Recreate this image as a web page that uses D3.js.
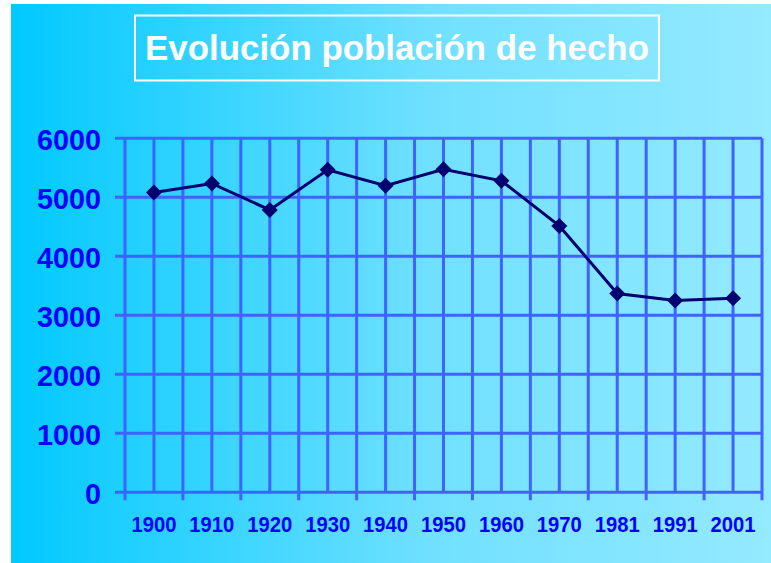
<!DOCTYPE html>
<html>
<head>
<meta charset="utf-8">
<script src="https://cdn.jsdelivr.net/npm/d3@7"></script>
<style>
  html, body { margin: 0; padding: 0; background: #fff; }
  svg { display: block; }
</style>
</head>
<body>
<svg id="chart"></svg>
<script>
const years = ['1900', '1910', '1920', '1930', '1940', '1950', '1960', '1970', '1981', '1991', '2001'];
const poblacion = [5080, 5235, 4785, 5465, 5195, 5475, 5280, 4515, 3370, 3250, 3290];
const yTicks = [0, 1000, 2000, 3000, 4000, 5000, 6000];
const titulo = 'Evolución población de hecho';

const width = 771, height = 563;
const margin = { top: 138.3, left: 125, bottom: 70.7, right: 9 };
const iwidth = width - margin.left - margin.right;
const iheight = height - margin.top - margin.bottom;

const svg = d3.select('#chart').attr('width', width).attr('height', height);

// background
const grad = svg.append('defs').append('linearGradient')
  .attr('id', 'bg').attr('x1', '0%').attr('x2', '100%').attr('y1', '0%').attr('y2', '0%');
grad.append('stop').attr('offset', '0%').attr('stop-color', '#00c9ff');
grad.append('stop').attr('offset', '55%').attr('stop-color', '#70e0ff');
grad.append('stop').attr('offset', '100%').attr('stop-color', '#94eaff');
svg.append('rect').attr('x', 11).attr('y', 4).attr('width', width - 11).attr('height', height - 4)
  .attr('fill', 'url(#bg)');

// title
svg.append('rect').attr('x', 135).attr('y', 15.5).attr('width', 524).attr('height', 65)
  .attr('fill', 'none').attr('stroke', '#fff').attr('stroke-width', 2);
svg.append('text').attr('x', 397).attr('y', 60)
  .attr('text-anchor', 'middle')
  .attr('font-family', 'Liberation Sans, Arial, sans-serif')
  .attr('font-weight', 'bold').attr('font-size', 35)
  .attr('textLength', 504).attr('lengthAdjust', 'spacingAndGlyphs')
  .attr('fill', '#fff').text(titulo);

const g = svg.append('g').attr('transform', `translate(${margin.left},${margin.top})`);

const x = d3.scaleBand().domain(years).range([0, iwidth]).padding(0);
const y = d3.scaleLinear().domain([0, 6000]).range([iheight, 0]);

const gridColor = '#3f63ff';

// horizontal grid + left ticks
g.selectAll('.hgrid').data(yTicks).enter().append('line')
  .attr('x1', -10).attr('x2', iwidth)
  .attr('y1', d => y(d)).attr('y2', d => y(d))
  .attr('stroke', gridColor).attr('stroke-width', 3);

// vertical lines at band centers
g.selectAll('.vc').data(years).enter().append('line')
  .attr('x1', d => x(d) + x.bandwidth() / 2).attr('x2', d => x(d) + x.bandwidth() / 2)
  .attr('y1', 0).attr('y2', iheight)
  .attr('stroke', gridColor).attr('stroke-width', 3);

// vertical lines at band edges, with tick below axis
const edges = years.map(d => x(d)).concat([iwidth]);
g.selectAll('.ve').data(edges).enter().append('line')
  .attr('x1', d => d).attr('x2', d => d)
  .attr('y1', 0).attr('y2', iheight + 8)
  .attr('stroke', gridColor).attr('stroke-width', 3);

// y axis labels
const yAxis = g.append('g')
  .call(d3.axisLeft(y).tickValues(yTicks).tickSize(0).tickPadding(24).tickFormat(d3.format('d')));
yAxis.select('.domain').remove();
yAxis.selectAll('text')
  .attr('font-family', 'Liberation Sans, Arial, sans-serif')
  .attr('font-weight', 'bold').attr('font-size', 30)
  .attr('textLength', d => String(d).length * 16).attr('lengthAdjust', 'spacingAndGlyphs')
  .attr('fill', '#0000ff').attr('dy', '0.36em');

// x axis labels
const xAxis = g.append('g').attr('transform', `translate(0,${iheight})`)
  .call(d3.axisBottom(x).tickSize(0).tickPadding(24));
xAxis.select('.domain').remove();
xAxis.selectAll('text')
  .attr('font-family', 'Liberation Sans, Arial, sans-serif')
  .attr('font-weight', 'bold').attr('font-size', 21.5)
  .attr('textLength', 45).attr('lengthAdjust', 'spacingAndGlyphs')
  .attr('fill', '#0000ff').attr('dy', '0.71em');

// line
const line = d3.line()
  .x((d, i) => x(years[i]) + x.bandwidth() / 2)
  .y(d => y(d));
g.append('path').datum(poblacion)
  .attr('d', line).attr('fill', 'none')
  .attr('stroke', '#000070').attr('stroke-width', 3);

// diamond markers
g.selectAll('.pt').data(poblacion).enter().append('path')
  .attr('d', 'M0,-8L8,0L0,8L-8,0Z')
  .attr('transform', (d, i) => `translate(${x(years[i]) + x.bandwidth() / 2},${y(d)})`)
  .attr('fill', '#000070');
</script>
</body>
</html>
